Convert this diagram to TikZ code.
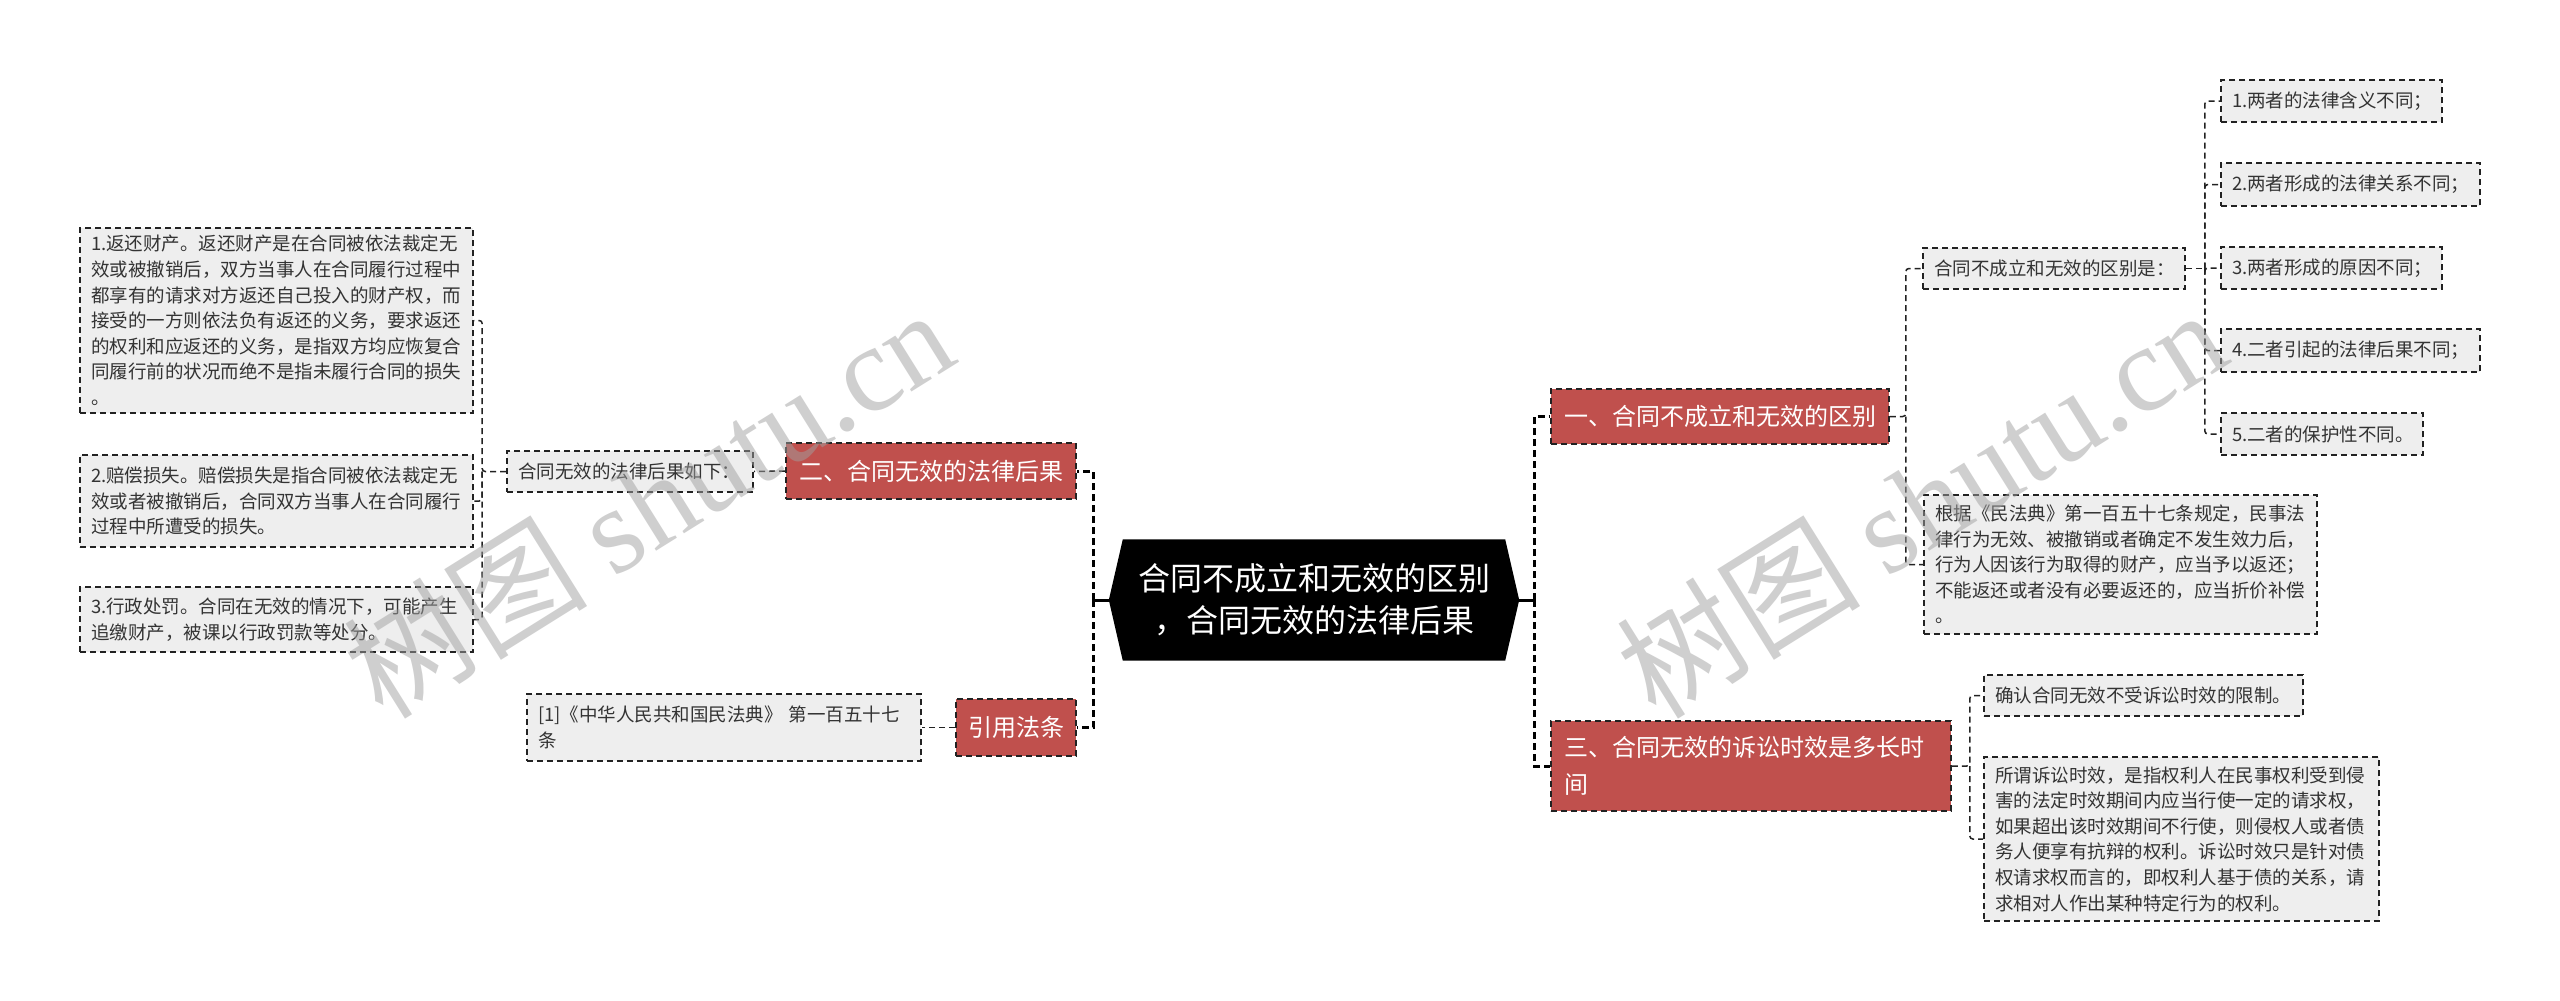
\documentclass[tikz,border=0pt]{standalone}
\usepackage{fontspec}
\setmainfont{Noto Sans CJK SC}
\newfontfamily\wmlatin{Liberation Serif}
\usetikzlibrary{calc}
\definecolor{cred}{HTML}{C0504D}
\definecolor{cgrey}{HTML}{EEEEEE}
\definecolor{ink}{HTML}{333333}
\definecolor{edge}{HTML}{222222}
\definecolor{wmgray}{HTML}{A0A0A0}
\begin{document}
\begin{tikzpicture}[x=1pt,y=-1pt,
  leafbox/.style={draw=edge, line width=1.6pt, dash pattern=on 6pt off 4pt, fill=cgrey, text=ink,
    font=\fontsize{18.5pt}{25.6pt}\selectfont, align=left, inner xsep=11pt, inner ysep=0pt},
  rednode/.style={draw=edge, line width=1.6pt, dash pattern=on 6pt off 4pt, fill=cred, text=white,
    font=\fontsize{24pt}{37pt}\selectfont, align=left, inner xsep=13pt, inner ysep=0pt},
  link/.style={draw=edge, line width=1.5pt, dash pattern=on 6pt off 4pt, rounded corners=3pt},
  buslink/.style={draw=black, line width=3pt, dash pattern=on 7pt off 4pt},
  rootlink/.style={draw=black, line width=3pt},
  wm/.style={text=wmgray, opacity=0.5, rotate=32, inner sep=0pt,
    font=\fontsize{122pt}{130pt}\selectfont}
]
\fill[white] (0,0) rectangle (2560,1001);
\useasboundingbox (0,0) rectangle (2560,1001);

% central node
\node[minimum width=382pt, minimum height=121pt, inner sep=0pt] (c) at (1314,600) {};
\coordinate (cl) at ($(c.west)+(-14,0)$);
\coordinate (cr) at ($(c.east)+(14,0)$);
\fill[black] (c.north west) -- (c.north east) -- (cr) -- (c.south east) -- (c.south west) -- (cl) -- cycle;
\node[text=white, align=center, font=\fontsize{32pt}{42pt}\selectfont, inner sep=0pt] (ct) at (1314,600)
  {合同不成立和无效的区别\\，合同无效的法律后果};

% red branch nodes
\node[rednode, text width=312pt, minimum height=55pt] (R1) at (1720,416.5) {一、合同不成立和无效的区别};
\node[rednode, text width=374pt, minimum height=90pt] (R3) at (1751,766) {三、合同无效的诉讼时效是多长时\\间};
\node[rednode, text width=264pt, minimum height=56pt] (R2) at (931,471) {二、合同无效的法律后果};
\node[rednode, text width=96pt, inner xsep=12pt, minimum height=57pt] (R4) at (1016,727.5) {引用法条};

% right leaves
\node[leafbox, text width=240pt, minimum height=41pt] (A) at (2054,268.5) {合同不成立和无效的区别是：};
\node[leafbox, text width=371pt, minimum height=139pt] (B) at (2120.5,564.5)
  {根据《民法典》第一百五十七条规定，民事法\\律行为无效、被撤销或者确定不发生效力后，\\行为人因该行为取得的财产，应当予以返还；\\不能返还或者没有必要返还的，应当折价补偿\\。};
\node[leafbox, text width=199pt, minimum height=42pt] (a1) at (2331.5,101) {1.两者的法律含义不同；};
\node[leafbox, text width=237pt, minimum height=43pt] (a2) at (2350.5,184.5) {2.两者形成的法律关系不同；};
\node[leafbox, text width=199pt, minimum height=42pt] (a3) at (2331.5,268) {3.两者形成的原因不同；};
\node[leafbox, text width=237pt, minimum height=43pt] (a4) at (2350.5,350.5) {4.二者引起的法律后果不同；};
\node[leafbox, text width=180pt, minimum height=42pt] (a5) at (2322,434) {5.二者的保护性不同。};
\node[leafbox, text width=297pt, minimum height=41pt] (D) at (2143.5,695.5) {确认合同无效不受诉讼时效的限制。};
\node[leafbox, text width=373pt, minimum height=164pt] (E) at (2181.5,839)
  {所谓诉讼时效，是指权利人在民事权利受到侵\\害的法定时效期间内应当行使一定的请求权，\\如果超出该时效期间不行使，则侵权人或者债\\务人便享有抗辩的权利。诉讼时效只是针对债\\权请求权而言的，即权利人基于债的关系，请\\求相对人作出某种特定行为的权利。};

% left leaves
\node[leafbox, text width=224pt, minimum height=41pt] (F) at (630,471.5) {合同无效的法律后果如下：};
\node[leafbox, text width=371pt, minimum height=185pt] (G1) at (276.5,320.5)
  {1.返还财产。返还财产是在合同被依法裁定无\\效或被撤销后，双方当事人在合同履行过程中\\都享有的请求对方返还自己投入的财产权，而\\接受的一方则依法负有返还的义务，要求返还\\的权利和应返还的义务，是指双方均应恢复合\\同履行前的状况而绝不是指未履行合同的损失\\。};
\node[leafbox, text width=371pt, minimum height=92pt] (G2) at (276.5,501)
  {2.赔偿损失。赔偿损失是指合同被依法裁定无\\效或者被撤销后，合同双方当事人在合同履行\\过程中所遭受的损失。};
\node[leafbox, text width=371pt, minimum height=65pt] (G3) at (276.5,619.5)
  {3.行政处罚。合同在无效的情况下，可能产生\\追缴财产，被课以行政罚款等处分。};
\node[leafbox, text width=372pt, minimum height=67pt] (H) at (724,727.5)
  {[1]《中华人民共和国民法典》 第一百五十七\\条};

% root connectors
\coordinate (lbus) at (1093,600);
\coordinate (rbus) at (1534,600);
\draw[rootlink] (cl) -- (lbus);
\draw[rootlink] (cr) -- (rbus);
\draw[buslink] (lbus) |- (R2.east);
\draw[buslink] (lbus) |- (R4.east);
\draw[buslink] (rbus) |- (R1.west);
\draw[buslink] (rbus) |- (R3.west);

% second-level connectors
\coordinate (b1) at ($(R1.east)+(16,0)$);
\draw[link] (R1.east) -- (b1) |- (A.west);
\draw[link] (b1) |- (B.west);
\coordinate (b2) at ($(A.east)+(19,0)$);
\draw[link] (A.east) -- (b2);
\draw[link] (b2) |- (a1.west);
\draw[link] (b2) |- (a2.west);
\draw[link] (b2) |- (a3.west);
\draw[link] (b2) |- (a4.west);
\draw[link] (b2) |- (a5.west);
\coordinate (b3) at ($(R3.east)+(18,0)$);
\draw[link] (R3.east) -- (b3) |- (D.west);
\draw[link] (b3) |- (E.west);
\draw[link] (R2.west) -- (F.east);
\coordinate (b4) at ($(F.west)+(-24,0)$);
\draw[link] (F.west) -- (b4) |- (G1.east);
\draw[link] (b4) |- (G2.east);
\draw[link] (b4) |- (G3.east);
\draw[link] (R4.west) -- (H.east);

% watermarks
\node[wm] (wm1) at (648,502) {树图 {\wmlatin shutu.cn}};
\node[wm] (wm2) at (1921,502) {树图 {\wmlatin shutu.cn}};
\end{tikzpicture}
\end{document}
